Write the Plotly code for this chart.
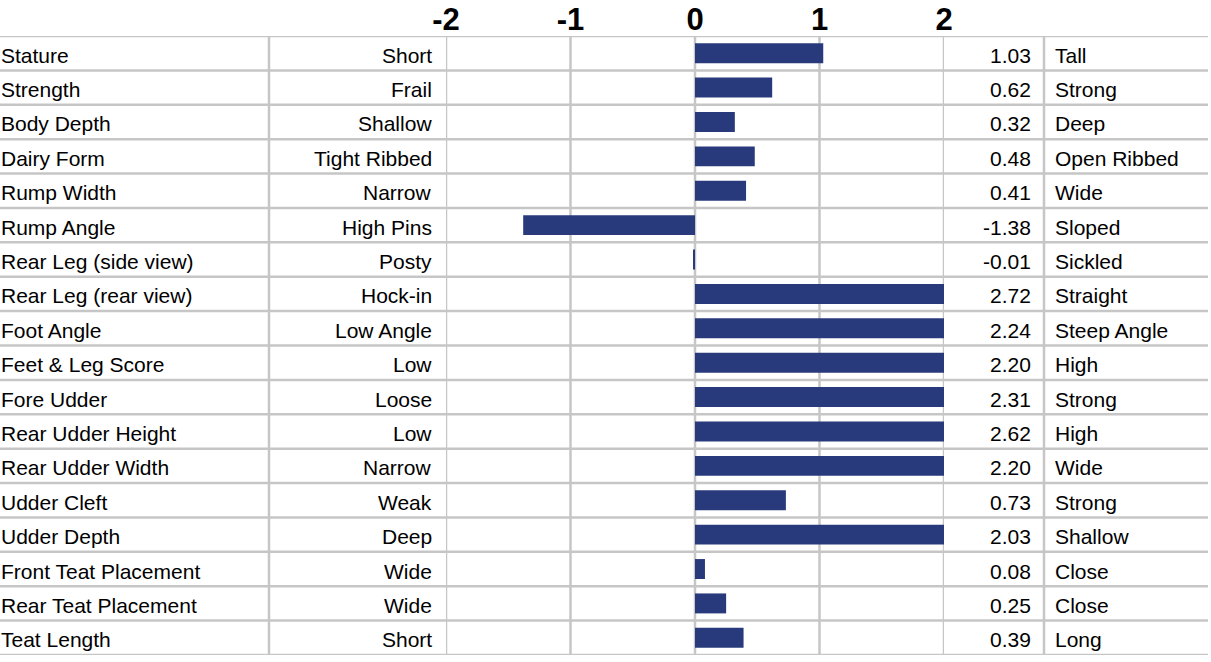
import plotly.graph_objects as go

traits = ["Stature", "Strength", "Body Depth", "Dairy Form", "Rump Width", "Rump Angle",
          "Rear Leg (side view)", "Rear Leg (rear view)", "Foot Angle", "Feet & Leg Score",
          "Fore Udder", "Rear Udder Height", "Rear Udder Width", "Udder Cleft", "Udder Depth",
          "Front Teat Placement", "Rear Teat Placement", "Teat Length"]
low_labels = ["Short", "Frail", "Shallow", "Tight Ribbed", "Narrow", "High Pins", "Posty",
              "Hock-in", "Low Angle", "Low", "Loose", "Low", "Narrow", "Weak", "Deep",
              "Wide", "Wide", "Short"]
high_labels = ["Tall", "Strong", "Deep", "Open Ribbed", "Wide", "Sloped", "Sickled",
               "Straight", "Steep Angle", "High", "Strong", "High", "Wide", "Strong",
               "Shallow", "Close", "Close", "Long"]
values = [1.03, 0.62, 0.32, 0.48, 0.41, -1.38, -0.01, 2.72, 2.24, 2.20, 2.31, 2.62,
          2.20, 0.73, 2.03, 0.08, 0.25, 0.39]
tick_vals = [-2, -1, 0, 1, 2]
tick_text = ["-2", "-1", "0", "1", "2"]

W, H = 1211, 662
FONT = "Liberation Sans, Arial, sans-serif"
GRID = "#c6c6c6"
n = len(traits)
y_top = 1 - 36 / H
y_bot = 1 - 655 / H

fig = go.Figure()
fig.add_trace(go.Bar(
    x=values, y=list(range(n)), orientation="h", width=0.58,
    marker=dict(color="#283A7C", line=dict(width=0)), hoverinfo="skip",
))

shapes = []
for k in range(n + 1):
    shapes.append(dict(type="line", xref="paper", yref="y", x0=0, x1=1208 / W,
                       y0=k - 0.5, y1=k - 0.5, line=dict(color=GRID, width=2.5), layer="below"))
for px in [269, 1044]:
    shapes.append(dict(type="line", xref="paper", yref="paper", x0=px / W, x1=px / W,
                       y0=y_bot, y1=y_top, line=dict(color=GRID, width=2.5), layer="below"))
for tv in tick_vals:
    shapes.append(dict(type="line", xref="x", yref="paper", x0=tv, x1=tv,
                       y0=y_bot, y1=y_top, line=dict(color=GRID, width=2.5), layer="below"))

annotations = []
tf = dict(family=FONT, size=21, color="black")
ys = -2
for i in range(n):
    annotations.append(dict(xref="paper", yref="y", x=0, xshift=-1, y=i, yshift=ys,
                            text=traits[i], xanchor="left", yanchor="middle",
                            showarrow=False, font=tf))
    annotations.append(dict(xref="paper", yref="y", x=434 / W, y=i, yshift=ys,
                            text=low_labels[i], xanchor="right", yanchor="middle",
                            showarrow=False, font=tf))
    annotations.append(dict(xref="paper", yref="y", x=1033 / W, y=i, yshift=ys,
                            text=f"{values[i]:.2f}", xanchor="right", yanchor="middle",
                            showarrow=False, font=tf))
    annotations.append(dict(xref="paper", yref="y", x=1053 / W, y=i, yshift=ys,
                            text=high_labels[i], xanchor="left", yanchor="middle",
                            showarrow=False, font=tf))

fig.update_layout(
    template="none",
    width=W, height=H, margin=dict(l=0, r=0, t=0, b=0, pad=0, autoexpand=False),
    paper_bgcolor="white", plot_bgcolor="rgba(0,0,0,0)",
    showlegend=False, shapes=shapes, annotations=annotations,
    xaxis=dict(domain=[446 / W, 944 / W], range=[-2, 2], side="top", automargin=False,
               tickvals=tick_vals, ticktext=tick_text, showgrid=False, zeroline=False,
               showline=False, ticks="", fixedrange=True, ticklabelstandoff=-1,
               tickfont=dict(family=FONT, size=31, color="black", weight="bold")),
    yaxis=dict(domain=[y_bot, y_top], range=[n - 0.5, -0.5], showticklabels=False,
               automargin=False, showgrid=False, zeroline=False, showline=False,
               ticks="", fixedrange=True),
)

fig.write_html(
    "out.html",
    config={"displayModeBar": False},
    post_script="document.body.style.margin='0';document.body.style.overflow='hidden';",
)
